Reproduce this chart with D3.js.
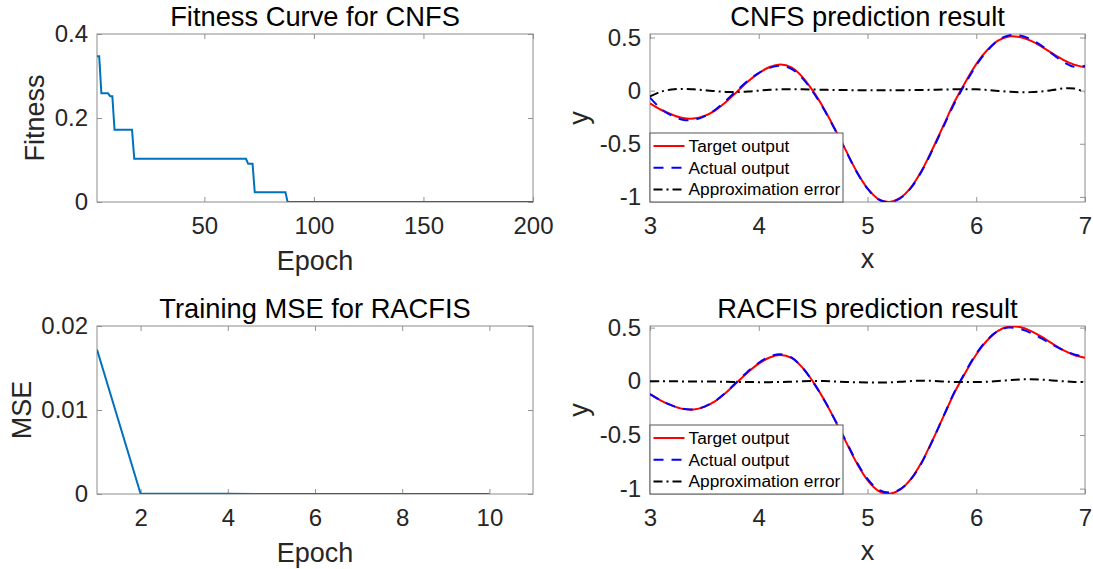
<!DOCTYPE html>
<meta charset="utf-8">
<script src="https://d3js.org/d3.v7.min.js"></script>
<style>
  body { margin: 0; background: #fff; }
  text { font-family: "Liberation Sans", Arial, sans-serif; }
</style>
<svg id="chart" width="1093" height="569"></svg>
<script>

// Fitness curve for CNFS (best fitness, changes only at these epochs)
var fitEpoch = [1, 2, 3, 6, 7, 8, 9, 17, 18, 69, 70, 72, 73, 87, 88, 200];
var fitValue = [0.347, 0.347, 0.259, 0.259, 0.252, 0.252, 0.172, 0.172, 0.103, 0.103, 0.091, 0.091, 0.023, 0.023, 0, 0];

// Training MSE for RACFIS
var mseEpoch = [1, 2, 3, 4, 5, 6, 7, 8, 9, 10];
var mseValue = [0.0172, 0.00003, 0.00002, 0.00002, 0.00001, 0.00001, 0.00001, 0.00001, 0.00001, 0.00001];

// prediction results, x from 3 to 7
var xs = [3.0, 3.1, 3.2, 3.3, 3.4, 3.5, 3.6, 3.7, 3.8, 3.9, 4.0, 4.1, 4.2, 4.3, 4.4, 4.5, 4.6, 4.7, 4.8, 4.9,
          5.0, 5.1, 5.2, 5.3, 5.4, 5.5, 5.6, 5.7, 5.8, 5.9, 6.0, 6.1, 6.2, 6.3, 6.4, 6.5, 6.6, 6.7, 6.8, 6.9, 7.0];
var target = [-0.12, -0.18, -0.225, -0.257, -0.263, -0.238, -0.185, -0.105, -0.01, 0.085, 0.165, 0.222, 0.245, 0.218, 0.13, -0.005,
              -0.17, -0.36, -0.56, -0.76, -0.92, -1.02, -1.047, -1.01, -0.91, -0.75, -0.545, -0.325, -0.105, 0.08, 0.25,
              0.38, 0.47, 0.51, 0.505, 0.47, 0.415, 0.35, 0.29, 0.245, 0.22];
var cnfsActual = [-0.065, -0.17, -0.235, -0.273, -0.275, -0.243, -0.18, -0.093, 0.003, 0.093, 0.165, 0.214, 0.233, 0.205, 0.118, -0.015,
                  -0.178, -0.366, -0.565, -0.764, -0.923, -1.023, -1.05, -1.014, -0.915, -0.756, -0.553, -0.335, -0.118, 0.066, 0.238,
                  0.374, 0.473, 0.52, 0.52, 0.484, 0.423, 0.345, 0.27, 0.225, 0.235];
var cnfsError = [-0.055, -0.01, 0.01, 0.016, 0.012, 0.005, -0.005, -0.012, -0.013, -0.008, 0.0, 0.008, 0.012, 0.013, 0.012, 0.01,
                 0.008, 0.006, 0.005, 0.004, 0.003, 0.003, 0.003, 0.004, 0.005, 0.006, 0.008, 0.01, 0.013, 0.014, 0.012,
                 0.006, -0.003, -0.01, -0.015, -0.014, -0.008, 0.005, 0.02, 0.02, -0.015];
var racfisActual = [-0.12, -0.18, -0.225, -0.256, -0.262, -0.236, -0.182, -0.1, -0.004, 0.092, 0.173, 0.23, 0.252, 0.222, 0.129, -0.008,
                    -0.172, -0.358, -0.554, -0.751, -0.909, -1.008, -1.037, -1.005, -0.912, -0.756, -0.549, -0.323, -0.099, 0.087, 0.257,
                    0.385, 0.468, 0.5, 0.488, 0.451, 0.399, 0.342, 0.29, 0.251, 0.228];
var racfisError = [0, 0, 0, -0.001, -0.001, -0.002, -0.003, -0.005, -0.006, -0.007, -0.008, -0.008, -0.007, -0.004, 0.001, 0.003,
                   0.002, -0.002, -0.006, -0.009, -0.011, -0.012, -0.01, -0.005, 0.002, 0.006, 0.004, -0.002, -0.006, -0.007, -0.007,
                   -0.005, 0.002, 0.01, 0.017, 0.019, 0.016, 0.008, 0.0, -0.006, -0.008];

var legendLabels = ["Target output", "Actual output", "Approximation error"];

var svg = d3.select("#chart");
var axisColor = "#262626";

// MATLAB style number labels: 0, 0.2, -0.5, -1 ...
function fmt(d) { return String(+d.toFixed(4)); }

function drawPanel(p) {
  var x = d3.scaleLinear().domain(p.xDomain).range([p.left, p.right]);
  var y = d3.scaleLinear().domain(p.yDomain).range([p.bottom, p.top]);
  var g = svg.append("g");

  g.append("clipPath").attr("id", "clip" + p.id)
    .append("rect")
      .attr("x", p.left).attr("y", p.top)
      .attr("width", p.right - p.left).attr("height", p.bottom - p.top);

  // axes: ticks inside on all four sides
  var bottom = g.append("g").attr("transform", "translate(0," + p.bottom + ")")
    .call(d3.axisBottom(x).tickValues(p.xTicks).tickSize(-5).tickPadding(15).tickFormat(fmt));
  var top = g.append("g").attr("transform", "translate(0," + p.top + ")")
    .call(d3.axisTop(x).tickValues(p.xTicks).tickSize(-5).tickFormat(""));
  var left = g.append("g").attr("transform", "translate(" + p.left + ",0)")
    .call(d3.axisLeft(y).tickValues(p.yTicks).tickSize(-5).tickPadding(9).tickFormat(fmt));
  var right = g.append("g").attr("transform", "translate(" + p.right + ",0)")
    .call(d3.axisRight(y).tickValues(p.yTicks).tickSize(-5).tickFormat(""));

  [bottom, top, left, right].forEach(function(a) {
    a.select(".domain").remove();
    a.selectAll(".tick line").attr("stroke", "#777").attr("stroke-width", 0.8);
    a.selectAll("text").attr("fill", axisColor).attr("font-size", "24px")
      .attr("font-family", "Liberation Sans, Arial, sans-serif");
  });

  g.append("rect")
    .attr("x", p.left).attr("y", p.top)
    .attr("width", p.right - p.left).attr("height", p.bottom - p.top)
    .attr("fill", "none").attr("stroke", "#8c8c8c").attr("stroke-width", 1);

  var plot = g.append("g").attr("clip-path", "url(#clip" + p.id + ")");
  p.series.forEach(function(s) {
    var line = d3.line()
      .x(function(d, i) { return x(s.x[i]); })
      .y(function(d) { return y(d); });
    if (s.smooth) line.curve(d3.curveCatmullRom);
    plot.append("path")
      .datum(s.y)
      .attr("d", line)
      .attr("fill", "none")
      .attr("stroke", s.color)
      .attr("stroke-width", 2)
      .attr("stroke-dasharray", s.dash || null);
  });

  // title and axis labels
  g.append("text")
    .attr("x", (p.left + p.right) / 2).attr("y", p.top - 8)
    .attr("text-anchor", "middle").attr("font-size", "27.3px").attr("fill", "#000")
    .text(p.title);
  g.append("text")
    .attr("x", (p.left + p.right) / 2).attr("y", p.bottom + p.xLabelDy)
    .attr("text-anchor", "middle").attr("font-size", "27px").attr("fill", axisColor)
    .text(p.xLabel);
  g.append("text")
    .attr("transform", "translate(" + p.yLabelX + "," + (p.top + p.bottom) / 2 + ") rotate(-90)")
    .attr("text-anchor", "middle").attr("font-size", "27px").attr("fill", axisColor)
    .text(p.yLabel);

  if (p.legend) {
    var lg = g.append("g").attr("transform", "translate(" + p.left + "," + (p.bottom - 69) + ")");
    lg.append("rect")
      .attr("x", 0).attr("y", 0).attr("width", 193).attr("height", 69)
      .attr("fill", "#fff").attr("stroke", "#555").attr("stroke-width", 1);
    p.series.forEach(function(s, i) {
      var yy = 13 + i * 21.7;
      lg.append("line")
        .attr("x1", 3.5).attr("x2", 34.5).attr("y1", yy).attr("y2", yy)
        .attr("stroke", s.color).attr("stroke-width", 2)
        .attr("stroke-dasharray", s.dash || null);
      lg.append("text")
        .attr("x", 38.5).attr("y", yy).attr("dy", "0.35em")
        .attr("font-size", "17.3px").attr("fill", "#000")
        .text(legendLabels[i]);
    });
  }
}

var colL = [97, 533], colR = [650, 1085];
var rowT = [34, 202], rowB = [326, 494];

drawPanel({
  id: "fit", left: colL[0], right: colL[1], top: rowT[0], bottom: rowT[1],
  xDomain: [1, 200], yDomain: [0, 0.4],
  xTicks: [50, 100, 150, 200], yTicks: [0, 0.2, 0.4],
  title: "Fitness Curve for CNFS", xLabel: "Epoch", yLabel: "Fitness",
  xLabelDy: 68, yLabelX: 44,
  series: [{ x: fitEpoch, y: fitValue, color: "#0072BD" }]
});

drawPanel({
  id: "mse", left: colL[0], right: colL[1], top: rowB[0], bottom: rowB[1],
  xDomain: [1, 11], yDomain: [0, 0.02],
  xTicks: [2, 4, 6, 8, 10], yTicks: [0, 0.01, 0.02],
  title: "Training MSE for RACFIS", xLabel: "Epoch", yLabel: "MSE",
  xLabelDy: 68, yLabelX: 31,
  series: [{ x: mseEpoch, y: mseValue, color: "#0072BD" }]
});

drawPanel({
  id: "cnfs", left: colR[0], right: colR[1], top: rowT[0], bottom: rowT[1],
  xDomain: [3, 7], yDomain: [-1.048, 0.533],
  xTicks: [3, 4, 5, 6, 7], yTicks: [-1, -0.5, 0, 0.5],
  title: "CNFS prediction result", xLabel: "x", yLabel: "y",
  xLabelDy: 66, yLabelX: 588, legend: true,
  series: [
    { x: xs, y: target, color: "#ff0000", smooth: true },
    { x: xs, y: cnfsActual, color: "#0000ff", dash: "10,8", smooth: true },
    { x: xs, y: cnfsError, color: "#000000", dash: "9,4,2,4", smooth: true }
  ]
});

drawPanel({
  id: "racfis", left: colR[0], right: colR[1], top: rowB[0], bottom: rowB[1],
  xDomain: [3, 7], yDomain: [-1.05, 0.515],
  xTicks: [3, 4, 5, 6, 7], yTicks: [-1, -0.5, 0, 0.5],
  title: "RACFIS prediction result", xLabel: "x", yLabel: "y",
  xLabelDy: 66, yLabelX: 588, legend: true,
  series: [
    { x: xs, y: target, color: "#ff0000", smooth: true },
    { x: xs, y: racfisActual, color: "#0000ff", dash: "10,8", smooth: true },
    { x: xs, y: racfisError, color: "#000000", dash: "9,4,2,4", smooth: true }
  ]
});

</script>
